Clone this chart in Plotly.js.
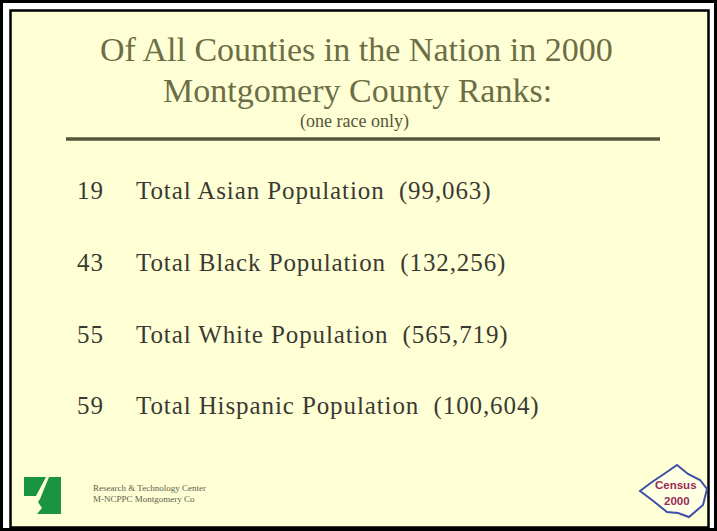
<!DOCTYPE html>
<html>
<head>
<meta charset="utf-8">
<script src="https://cdn.plot.ly/plotly-3.0.1.min.js"></script>
<style>
html,body{margin:0;padding:0;background:#fff;}
#chart{width:717px;height:531px;}
#chart .textpoint text{letter-spacing:0.9px;}
</style>
</head>
<body>
<div id="chart"></div>
<script>
const titleLines = ["Of All Counties in the Nation in 2000", "Montgomery County Ranks:"];
const subtitle = "(one race only)";
const ranks = [19, 43, 55, 59];
const groups = ["Total Asian Population", "Total Black Population", "Total White Population", "Total Hispanic Population"];
const populations = ["99,063", "132,256", "565,719", "100,604"];
const footerLines = ["Research & Technology Center", "M-NCPPC Montgomery Co"];
const logoText = ["Census", "2000"];

const W = 717, H = 531;
const rowY = ranks.map((r, i) => 193 + i * 71.7);
const serif = "Liberation Serif, Times New Roman, serif";

const traces = [
  {
    type: "scatter", mode: "text", x: ranks.map(() => 77), y: rowY,
    text: ranks.map(String), textposition: "middle right",
    textfont: {family: serif, size: 25, color: "#3a3a32"}, hoverinfo: "skip", showlegend: false
  },
  {
    type: "scatter", mode: "text", x: groups.map(() => 136), y: rowY,
    text: groups.map((g, i) => g + "  (" + populations[i] + ")"), textposition: "middle right",
    textfont: {family: serif, size: 25, color: "#3a3a32"}, hoverinfo: "skip", showlegend: false
  }
];

const shapes = [
  {type: "rect", xref: "x", yref: "y", x0: 1.5, x1: 715.5, y0: 1.5, y1: 529.5, line: {color: "#000", width: 3}, fillcolor: "#ffffff", layer: "below"},
  {type: "rect", xref: "x", yref: "y", x0: 10.5, x1: 708.5, y0: 10.5, y1: 527.5, line: {color: "#000", width: 2.5}, fillcolor: "#ffffd6", layer: "below"},
  {type: "line", xref: "x", yref: "y", x0: 66, x1: 660, y0: 139, y1: 139, line: {color: "#56563c", width: 3.5}},
  // green logo
  {type: "path", xref: "x", yref: "y", path: "M 24 477 L 46 477 L 36 496 L 24 496 Z", fillcolor: "#1a9440", line: {width: 0}},
  {type: "path", xref: "x", yref: "y", path: "M 49 477 L 61 477 L 61 514 L 37 514 L 42 508 L 38 502 L 40 499 Z", fillcolor: "#1a9440", line: {width: 0}},
  // census outline
  {type: "path", xref: "x", yref: "y", path: "M 640 491 L 652 482 L 664 474 L 677 465 L 688 474 L 700 480 L 707 489 L 703 505 L 689 517 L 678 513 L 667 512 L 652 500 Z", fillcolor: "rgba(255,255,255,0.35)", line: {color: "#3e4fa6", width: 2}}
];

const annotations = [
  {text: titleLines[0], x: 356, y: 49, font: {family: serif, size: 34, color: "#6c6e45"}},
  {text: titleLines[1], x: 357, y: 90, font: {family: serif, size: 34, color: "#6c6e45"}},
  {text: subtitle, x: 354, y: 121, font: {family: serif, size: 18, color: "#55553a"}},
  {text: footerLines[0], x: 91, y: 488, xanchor: "left", font: {family: serif, size: 9, color: "#5e5e4a"}},
  {text: footerLines[1], x: 91, y: 499, xanchor: "left", font: {family: serif, size: 9, color: "#5e5e4a"}},
  {text: "<b>" + logoText[0] + "</b>", x: 676, y: 485, font: {family: "Liberation Sans, Arial, sans-serif", size: 11.5, color: "#9a2a55"}},
  {text: "<b>" + logoText[1] + "</b>", x: 677, y: 501, font: {family: "Liberation Sans, Arial, sans-serif", size: 11.5, color: "#9a2a55"}}
].map(a => Object.assign({xref: "x", yref: "y", showarrow: false}, a));

const layout = {
  width: W, height: H,
  margin: {l: 0, r: 0, t: 0, b: 0, pad: 0},
  paper_bgcolor: "#ffffff", plot_bgcolor: "rgba(0,0,0,0)",
  xaxis: {range: [0, W], visible: false, fixedrange: true},
  yaxis: {range: [H, 0], visible: false, fixedrange: true},
  shapes: shapes, annotations: annotations, showlegend: false
};

Plotly.newPlot("chart", traces, layout, {staticPlot: true, displayModeBar: false});
</script>
</body>
</html>
